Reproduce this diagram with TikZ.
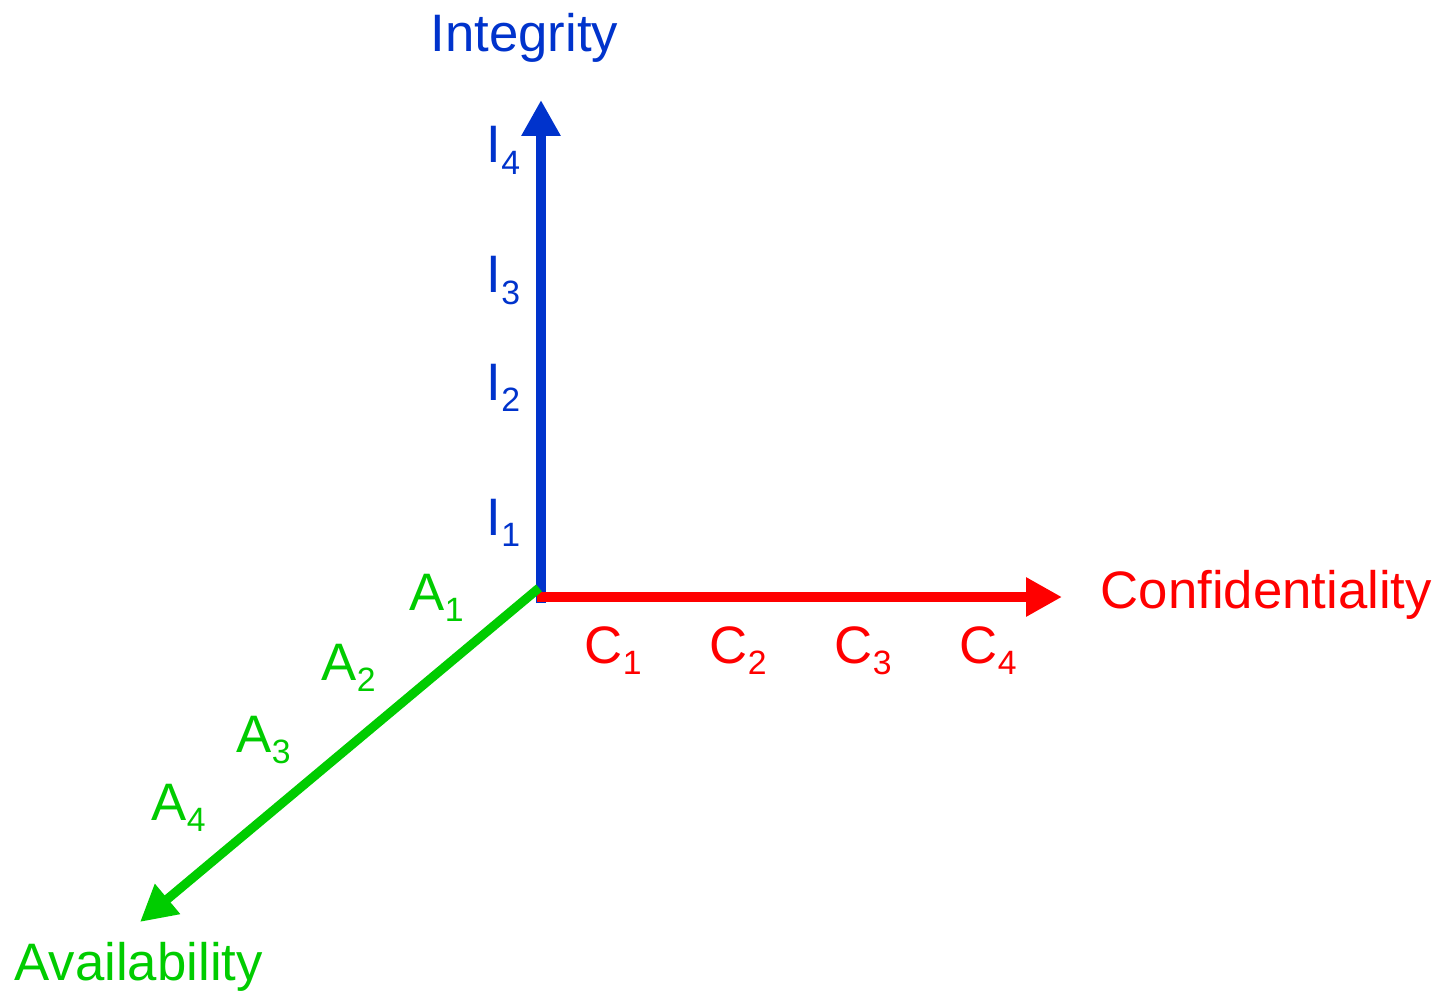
\documentclass[tikz,border=0pt]{standalone}
\usepackage{fontspec}
\setmainfont{Liberation Sans}
\usepackage{tikz}
\usetikzlibrary{arrows.meta,positioning}

\definecolor{intblue}{RGB}{0,51,204}
\definecolor{confred}{RGB}{255,0,0}
\definecolor{avgreen}{RGB}{0,204,0}

\newcommand{\axlab}[2]{#1\raisebox{-3.4pt}{\fontsize{9.6}{10}\selectfont #2}}

\begin{document}
\begin{tikzpicture}[
lab/.style={anchor=base west, inner sep=0pt, font=\fontsize{15}{18}\selectfont},
axis/.style={line width=2.6pt, -{Triangle[length=0.36cm,width=0.37cm]}}
]
\useasboundingbox (0,0) rectangle (14.37,9.95);
% axes
\coordinate (o) at (5.41,3.98);
\coordinate (ibase) at (5.41,3.92);
\coordinate (itip) at (5.41,8.95);
\coordinate (cbase) at (5.37,3.98);
\coordinate (ctip) at (10.62,3.98);
\coordinate (abase) at (5.39,4.07);
\coordinate (atip) at (1.40,0.73);
\draw[axis, intblue] (ibase) -- (itip);
\draw[axis, confred] (cbase) -- (ctip);
\draw[axis, avgreen] (abase) -- (atip);
% axis names
\node[lab, text=intblue] (integ) at (4.30,9.43) {Integrity};
\node[lab, text=confred] (conf) at (11.00,3.87) {Confidentiality};
\node[lab, text=avgreen] (avail) at (0.14,0.15) {Availability};
% levels
\node[lab, text=intblue] (i4) at (4.86,8.32) {\axlab{I}{4}};
\node[lab, text=intblue] (i3) at (4.86,7.02) {\axlab{I}{3}};
\node[lab, text=intblue] (i2) at (4.86,5.95) {\axlab{I}{2}};
\node[lab, text=intblue] (i1) at (4.86,4.60) {\axlab{I}{1}};
\node[lab, text=confred] (c1) at (5.84,3.32) {\axlab{C}{1}};
\node[lab, text=confred] (c2) at (7.09,3.32) {\axlab{C}{2}};
\node[lab, text=confred] (c3) at (8.34,3.32) {\axlab{C}{3}};
\node[lab, text=confred] (c4) at (9.59,3.32) {\axlab{C}{4}};
\node[lab, text=avgreen] (a1) at (4.09,3.85) {\axlab{A}{1}};
\node[lab, text=avgreen] (a2) at (3.21,3.15) {\axlab{A}{2}};
\node[lab, text=avgreen] (a3) at (2.36,2.43) {\axlab{A}{3}};
\node[lab, text=avgreen] (a4) at (1.51,1.75) {\axlab{A}{4}};
\end{tikzpicture}
\end{document}
